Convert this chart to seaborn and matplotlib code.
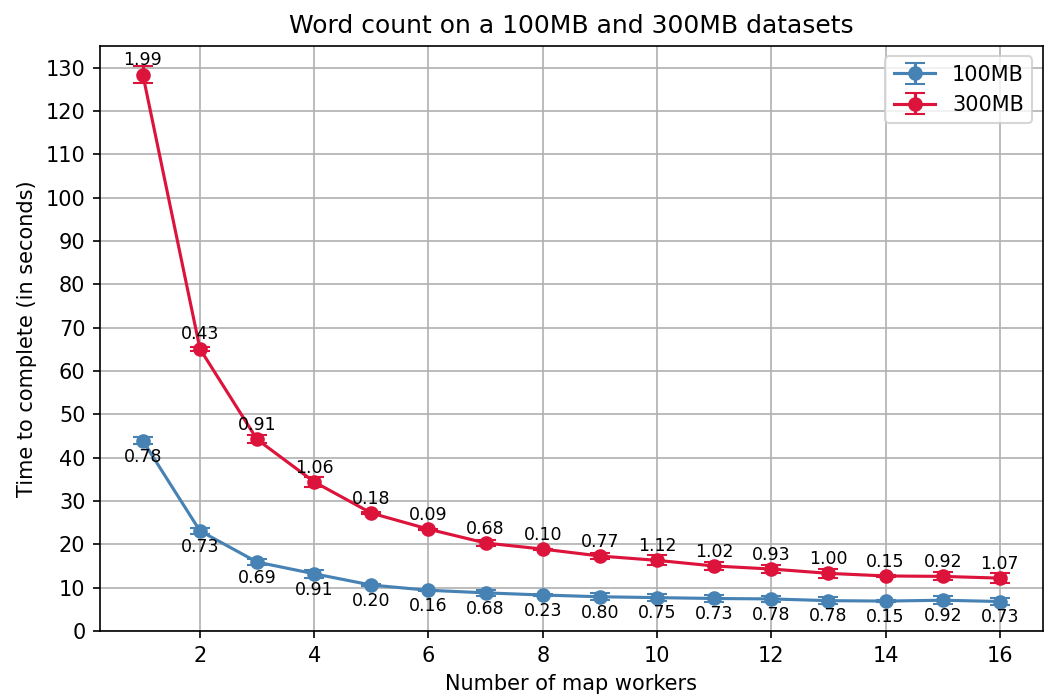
import numpy as np
import seaborn as sns
import matplotlib.pyplot as plt

# plain matplotlib look
sns.reset_defaults()
plt.rcParams['font.family'] = ['DejaVu Sans']

# number of map workers
workers = list(range(1, 17))

# mean time to complete (seconds) and std dev
time_100mb = [43.9, 23.1, 15.9, 13.2, 10.6, 9.4, 8.8, 8.3, 7.9, 7.7, 7.5, 7.4, 7.0, 6.9, 7.1, 6.8]
std_100mb = [0.78, 0.73, 0.69, 0.91, 0.20, 0.16, 0.68, 0.23, 0.80, 0.75, 0.73, 0.78, 0.78, 0.15, 0.92, 0.73]

time_300mb = [128.4, 65.1, 44.2, 34.4, 27.2, 23.5, 20.3, 18.9, 17.3, 16.3, 15.0, 14.3, 13.3, 12.7, 12.6, 12.2]
std_300mb = [1.99, 0.43, 0.91, 1.06, 0.18, 0.09, 0.68, 0.10, 0.77, 1.12, 1.02, 0.93, 1.00, 0.15, 0.92, 1.07]

fig, ax = plt.subplots(figsize=(1049 / 150, 696 / 150), dpi=150)

ax.errorbar(workers, time_100mb, yerr=std_100mb, fmt='-o', color='steelblue',
            capsize=5, label='100MB')
ax.errorbar(workers, time_300mb, yerr=std_300mb, fmt='-o', color='crimson',
            capsize=5, label='300MB')

# std annotations: below for 100MB, above for 300MB
for x, y, s in zip(workers, time_100mb, std_100mb):
    ax.annotate(f"{s:.2f}", (x, y), textcoords="offset points", xytext=(0, -10),
                ha='center', fontsize='small')
for x, y, s in zip(workers, time_300mb, std_300mb):
    ax.annotate(f"{s:.2f}", (x, y), textcoords="offset points", xytext=(0, 4.5),
                ha='center', fontsize='small')

ax.set_title('Word count on a 100MB and 300MB datasets')
ax.set_xlabel('Number of map workers')
ax.set_ylabel('Time to complete (in seconds)')
ax.set_yticks(range(0, 131, 10))
ax.set_xticks(range(2, 17, 2))
ax.set_ylim(0, 135)
ax.grid(True)
ax.legend(loc='upper right')

fig.subplots_adjust(left=0.0953, right=0.994, top=0.934, bottom=0.0934)
fig.savefig('out.png', dpi=150)
